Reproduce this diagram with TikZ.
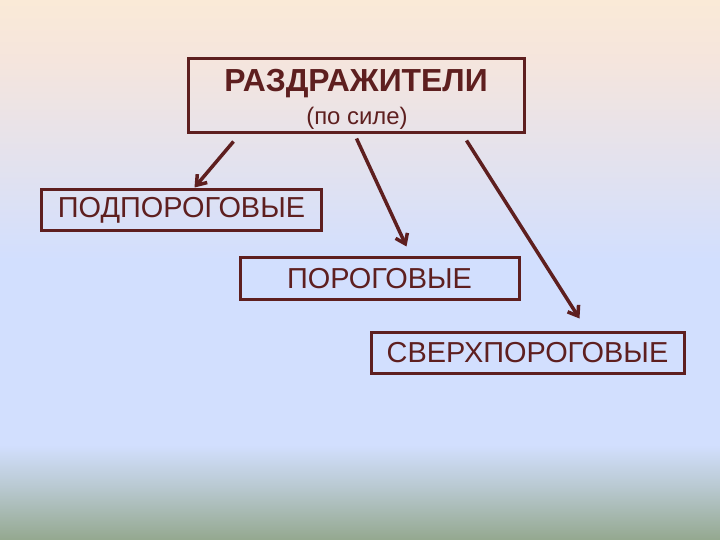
\documentclass[tikz,border=0pt]{standalone}
\usepackage{fontspec}
\setmainfont{Liberation Sans}
\usetikzlibrary{arrows.meta}
\definecolor{maroon}{HTML}{5E1F1F}
\definecolor{bgtop}{HTML}{FAEAD7}
\definecolor{bgpink}{HTML}{F5E5DD}
\definecolor{bgblue}{HTML}{D2DFFE}
\definecolor{bgmid}{HTML}{BACAD3}
\definecolor{bggreen}{HTML}{94A88F}

\begin{document}
\begin{tikzpicture}[
        x=1bp, y=-1bp,
        stimbox/.style={rectangle, draw=maroon, line width=3bp, inner sep=0pt, text=maroon, font=\fontsize{29}{32}\selectfont},
        arr/.style={draw=maroon, line width=3.5bp, -{Straight Barb[length=9bp,width=13bp]}}
    ]
        % Background
        \useasboundingbox (0,0) rectangle (720,540);
        \shade[top color=bgtop, bottom color=bgpink] (0,0) rectangle (720,60);
        \shade[top color=bgpink, bottom color=bgblue] (0,60) rectangle (720,260);
        \fill[bgblue] (0,260) rectangle (720,445);
        \shade[top color=bgblue, bottom color=bgmid] (0,445) rectangle (720,485);
        \shade[top color=bgmid, bottom color=bggreen] (0,485) rectangle (720,540);

        % Main node
        \node[stimbox, minimum width=336bp, minimum height=74bp] (stimuli) at (356,96) {};
        \node[text=maroon, font=\bfseries\fontsize{32}{36}\selectfont] (title) at (356,84) {РАЗДРАЖИТЕЛИ};
        \node[text=maroon, font=\fontsize{24}{28}\selectfont] (subtitle) at (357,118) {(по силе)};

        % Kinds by strength
        \node[stimbox, minimum width=279bp, minimum height=41bp] (sub) at (181.5,210.5) {ПОДПОРОГОВЫЕ};
        \node[stimbox, minimum width=279bp, minimum height=41bp] (thr) at (379.5,278.5) {ПОРОГОВЫЕ};
        \node[stimbox, minimum width=313bp, minimum height=41bp] (supra) at (527.5,352.5) {СВЕРХПОРОГОВЫЕ};

        % Connections
        \draw[arr] ([xshift=47bp,yshift=-7bp]stimuli.south west) -- ([xshift=154bp,yshift=1bp]sub.north west);
        \draw[arr] ([xshift=170bp,yshift=-4bp]stimuli.south west) -- ([xshift=168bp,yshift=10bp]thr.north west);
        \draw[arr] ([xshift=280bp,yshift=-6bp]stimuli.south west) -- ([xshift=210bp,yshift=12bp]supra.north west);

    \end{tikzpicture}
\end{document}
